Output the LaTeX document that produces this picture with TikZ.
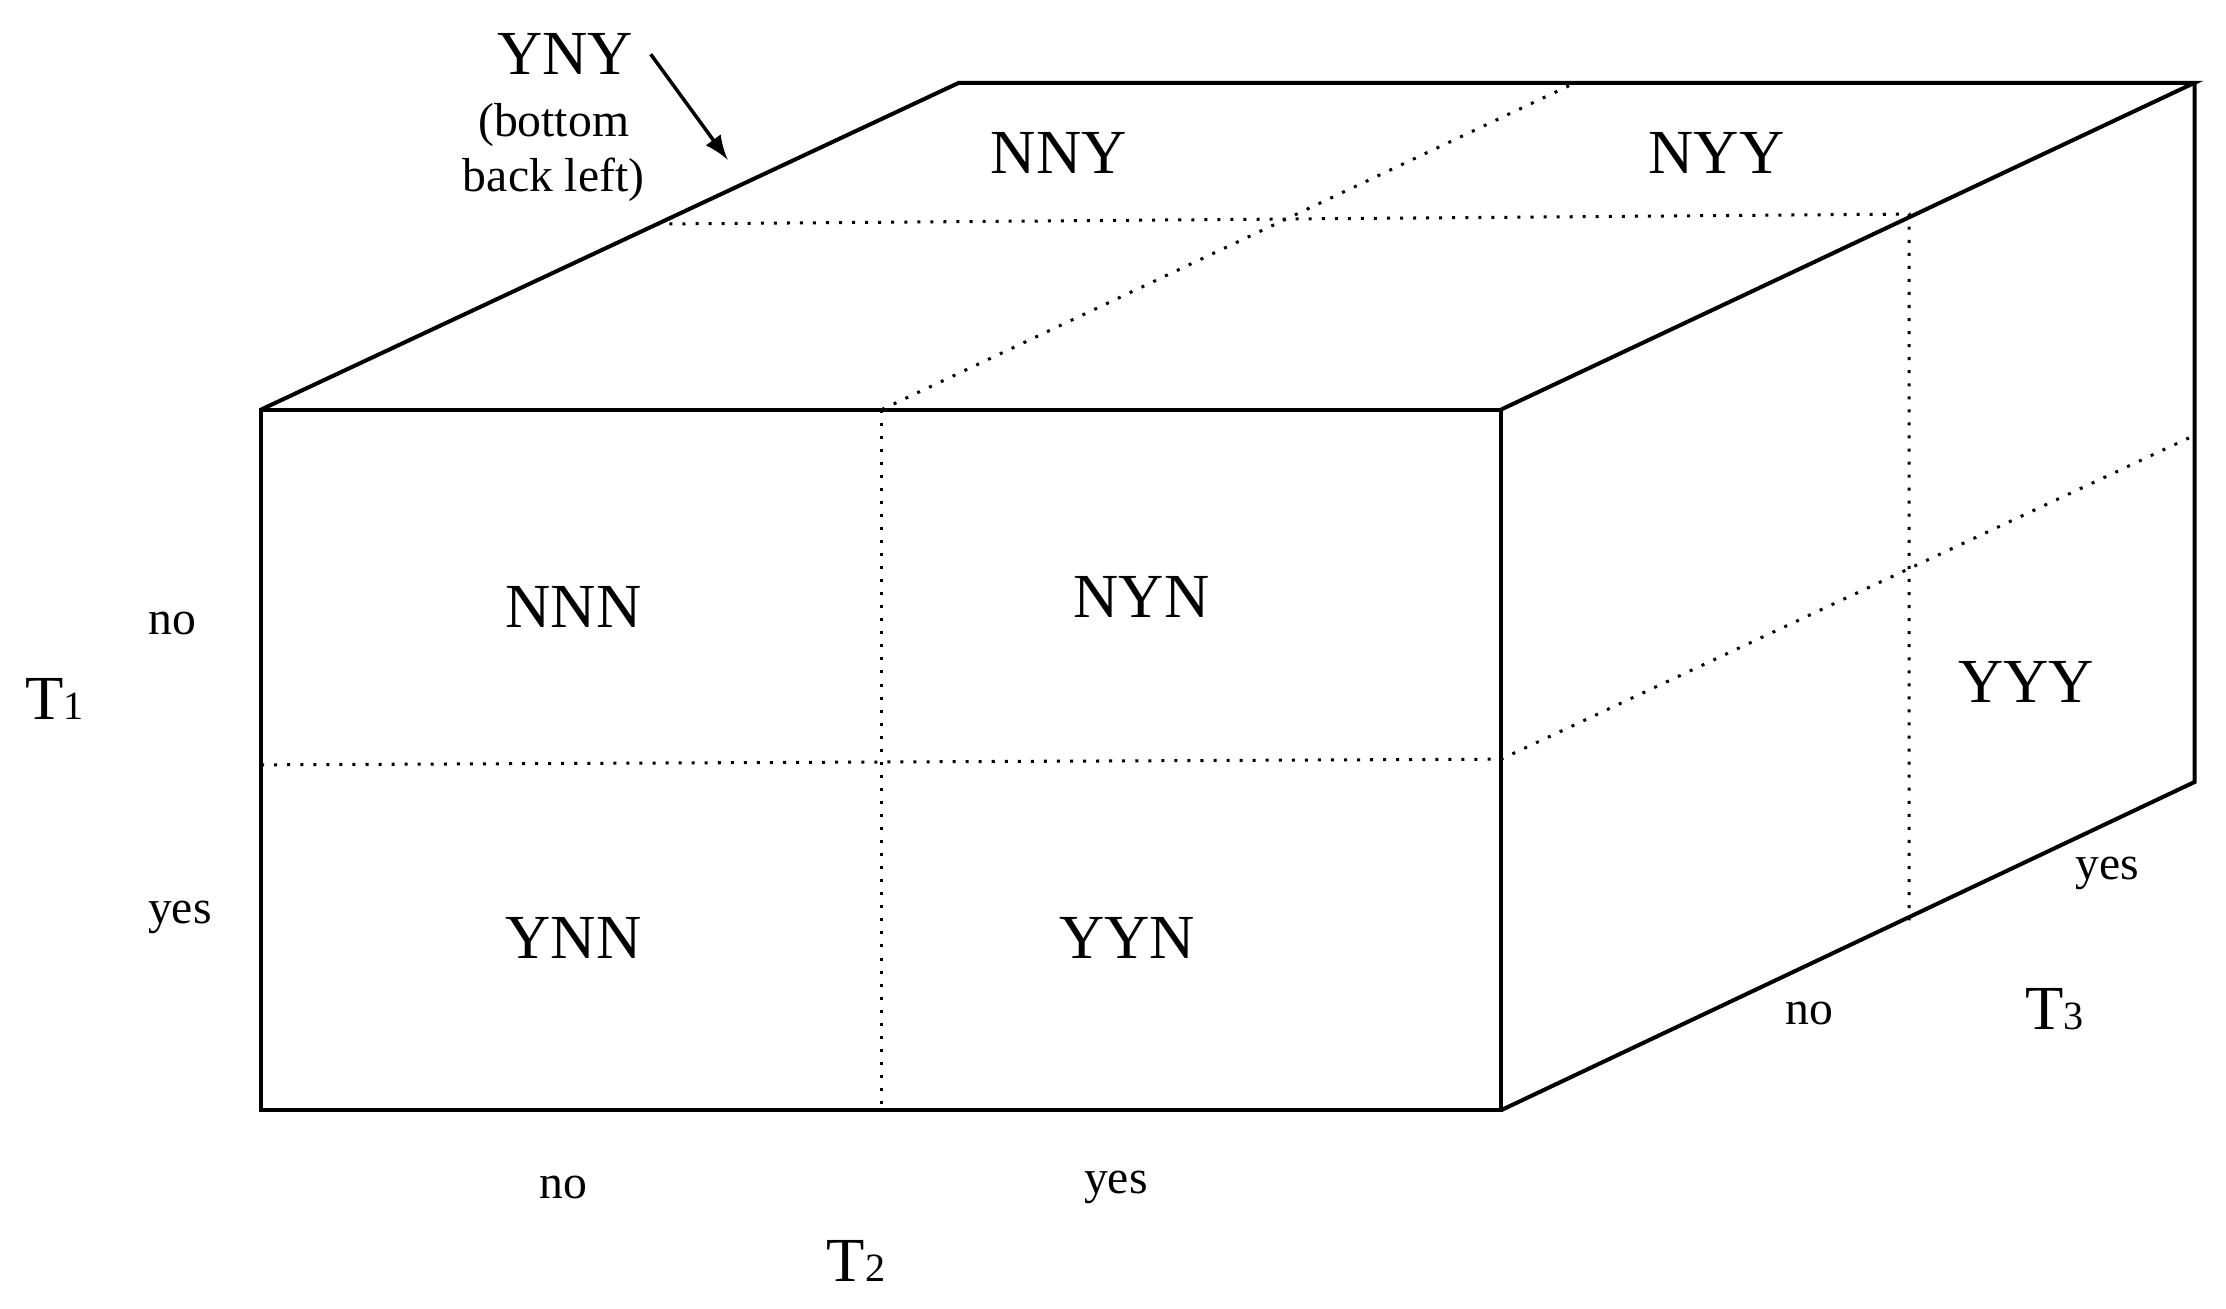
\documentclass[tikz,border=0pt]{standalone}
\usepackage{fontspec}
\setmainfont{Liberation Serif}
\begin{document}
\begin{tikzpicture}[x=0.01cm,y=-0.01cm,
  edge/.style={line width=0.8pt},
  grid/.style={dotted,line width=0.6pt},
  big/.style={font=\fontsize{12.5}{14}\selectfont},
  small/.style={font=\fontsize{9.5}{11}\selectfont}]
\useasboundingbox (0,0) rectangle (1560,917);
\coordinate (fa) at (183,287); \coordinate (fb) at (1052,287);
\coordinate (fc) at (1052,778); \coordinate (fd) at (183,778);
\coordinate (ba) at (672,58); \coordinate (bb) at (1538,58); \coordinate (bc) at (1538,548);
\draw[edge] (fa) rectangle (fc);
\draw[edge] (fa) -- (ba) -- (bb) -- (fb);
\draw[edge] (bb) -- (bc) -- (fc);
\coordinate (m1) at (618,287); \coordinate (m2) at (618,778);
\coordinate (h1) at (183,536); \coordinate (h2) at (1052,532);
\coordinate (t1) at (1104,58); \coordinate (l1) at (460,157); \coordinate (r1) at (1338,150);
\coordinate (r2) at (1338,645); \coordinate (s1) at (1538,305);
\draw[grid] (m1) -- (m2);
\draw[grid] (h1) -- (h2) -- (s1);
\draw[grid] (m1) -- (t1);
\draw[grid] (l1) -- (r1) -- (r2);
\node[big] (nny) at (742,107) {NNY};
\node[big] (nyy) at (1203,107) {NYY};
\node[big] (nnn) at (402,425) {NNN};
\node[big] (nyn) at (800,418) {NYN};
\node[big] (ynn) at (402,657) {YNN};
\node[big] (yyn) at (790,657) {YYN};
\node[big] (yyy) at (1420,478) {YYY};
\node[big] (yny) at (396,38) {YNY};
\node[small,align=center] (ynyc) at (388,107) {(bottom\\back left)};
\coordinate (arrend) at (510,112);
\draw[->,>=latex,line width=0.7pt] (yny.east) -- (arrend);
\node[small] (n1) at (121,437) {no};
\node[small] (y1) at (126,643) {yes};
\node[big] (T1) at (38,490) {T{\fontsize{8}{9}\selectfont 1}};
\node[small] (n2) at (395,832) {no};
\node[small] (y2) at (782,832) {yes};
\node[big] (T2) at (600,884) {T{\fontsize{8}{9}\selectfont 2}};
\node[small] (n3) at (1268,710) {no};
\node[small] (y3) at (1477,612) {yes};
\node[big] (T3) at (1440,707) {T{\fontsize{8}{9}\selectfont 3}};
\end{tikzpicture}
\end{document}
